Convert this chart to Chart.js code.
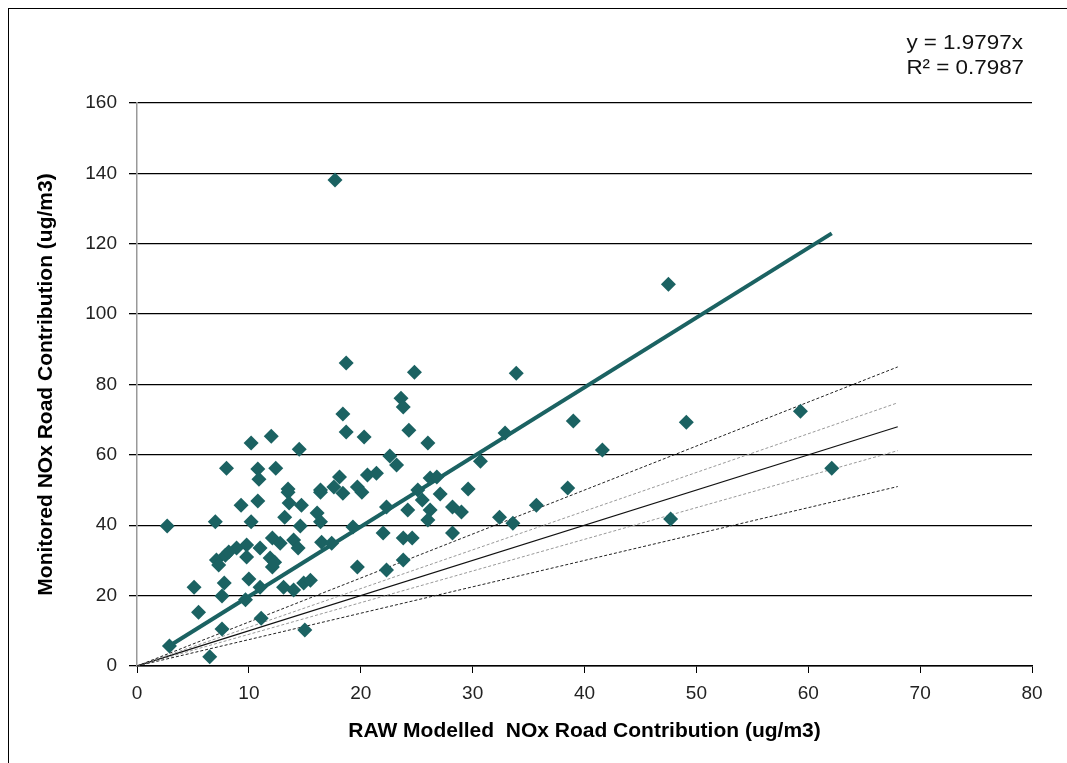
<!DOCTYPE html>
<html>
<head>
<meta charset="utf-8">
<script src="https://cdn.jsdelivr.net/npm/chart.js@4"></script>
<style>
  html, body { margin: 0; padding: 0; background: #fff; }
  #wrap { position: relative; width: 1067px; height: 763px; }
  #frame { position: absolute; left: 8px; top: 8px; width: 1070px; height: 770px; border: 1px solid #000; box-sizing: border-box; }
  #eq { position: absolute; right: 43px; top: 30px; font-family: "Liberation Sans", Arial, sans-serif; font-size: 20px; line-height: 25px; color: #111; text-align: left; transform: scaleX(1.12); transform-origin: right top; }
</style>
</head>
<body>
<div id="wrap">
  <div id="frame"></div>
  <canvas id="chart" width="1067" height="763"></canvas>
  <div id="eq">y = 1.9797x<br>R² = 0.7987</div>
</div>
<script>
// RAW modelled vs monitored NOx road contribution (ug/m3)
const modelled = [
  2.7, 7.0, 9.3, 10.8, 10.2, 13.5, 13.6, 14.7, 16.4, 13.2, 14.6, 16.1, 16.4, 12.1, 12.8, 14.0,
  14.4, 16.5, 17.4, 8.9, 9.8, 11.0, 7.1, 7.9, 7.3, 8.2, 9.8, 11.9, 12.1, 12.3, 5.1, 7.8,
  7.6, 10.0, 11.0, 13.1, 14.0, 14.9, 15.5, 9.7, 5.5, 7.6, 11.1, 15.0, 2.9, 6.5, 10.2, 12.0,
  14.5, 8.0, 10.8, 10.9, 12.4, 13.5, 16.4, 17.6, 18.7, 24.8, 33.9, 23.6, 23.8, 18.4, 18.7, 20.3,
  24.3, 26.0, 32.9, 22.6, 23.2, 30.7, 18.1, 18.4, 20.6, 21.4, 19.7, 20.1, 26.2, 26.8, 29.6, 25.1,
  27.1, 22.3, 24.2, 25.5, 26.2, 26.0, 28.2, 29.0, 32.4, 33.6, 19.3, 22.0, 23.8, 24.6, 28.2, 19.7,
  22.3, 23.8, 39.0, 49.1, 41.6, 59.3, 62.1, 38.5, 35.7, 47.7, 47.5, 17.7
];
const monitored = [
  39.8, 41.0, 45.7, 46.9, 41.0, 49.4, 46.3, 45.7, 49.4, 42.3, 39.8, 43.5, 41.0, 36.4, 34.9, 35.8,
  33.5, 35.2, 34.9, 33.5, 34.4, 33.5, 30.1, 31.5, 28.7, 32.4, 31.0, 30.7, 28.1, 29.5, 22.4, 23.6,
  19.9, 24.7, 22.4, 22.4, 21.6, 23.6, 24.4, 18.8, 15.3, 10.5, 13.6, 10.2, 5.7, 2.6, 63.4, 65.3,
  61.6, 56.2, 56.0, 53.1, 56.2, 50.3, 50.0, 50.9, 86.1, 83.5, 83.2, 76.1, 73.6, 71.6, 66.5, 65.1,
  67.0, 63.4, 66.2, 59.7, 57.1, 58.2, 53.7, 49.1, 54.3, 54.8, 50.9, 49.4, 53.4, 53.7, 50.3, 50.0,
  48.9, 45.2, 44.3, 47.2, 44.3, 41.5, 45.2, 43.8, 42.3, 40.6, 39.5, 37.8, 36.4, 36.4, 37.8, 28.1,
  27.3, 30.1, 69.6, 69.3, 61.4, 72.4, 56.2, 50.6, 45.7, 41.8, 108.5, 138.1
];
const trendSlope = 1.9797;
const refSlopes = [1.25, 1.1, 1.0, 0.9, 0.75];
const refMaxX = 68;
const xTicks = [0, 10, 20, 30, 40, 50, 60, 70, 80];
const yTicks = [0, 20, 40, 60, 80, 100, 120, 140, 160];

const teal = '#1b6262';
const points = modelled.map((x, i) => ({ x: x, y: monitored[i] }));
const xMin = Math.min(...modelled), xMax = Math.max(...modelled);

const refStyles = [
  { color: '#222', dash: [3, 2], width: 1 },
  { color: '#999', dash: [3, 2], width: 1 },
  { color: '#111', dash: [], width: 1.2 },
  { color: '#999', dash: [3, 2], width: 1 },
  { color: '#222', dash: [3, 2], width: 1 }
];

const datasets = refSlopes.map((s, i) => ({
  type: 'line',
  data: [{ x: 0, y: 0 }, { x: refMaxX, y: s * refMaxX }],
  borderColor: refStyles[i].color,
  borderDash: refStyles[i].dash,
  borderWidth: refStyles[i].width,
  pointRadius: 0,
  fill: false,
  order: 3
}));
datasets.push({
  type: 'line',
  data: [{ x: xMin, y: trendSlope * xMin }, { x: xMax, y: trendSlope * xMax }],
  borderColor: teal,
  borderWidth: 4,
  pointRadius: 0,
  fill: false,
  order: 2
});
datasets.push({
  type: 'scatter',
  data: points,
  pointStyle: 'rectRot',
  pointRadius: 7.5,
  backgroundColor: teal,
  borderColor: teal,
  borderWidth: 0,
  order: 1
});

const family = '"Liberation Sans", Arial, sans-serif';
const tickFont = { family: family, size: 19 };
const titleFont = { family: family, size: 21, weight: 'bold' };

new Chart(document.getElementById('chart'), {
  type: 'scatter',
  data: { datasets: datasets },
  options: {
    responsive: false,
    animation: false,
    layout: { padding: { left: 20, top: 103, right: 35, bottom: 17 } },
    plugins: { legend: { display: false }, tooltip: { enabled: false } },
    scales: {
      x: {
        type: 'linear',
        min: 0, max: 80,
        afterBuildTicks: s => { s.ticks = xTicks.map(v => ({ value: v })); },
        afterFit: s => { s.height = 80; },
        ticks: { color: '#222', font: tickFont, padding: 9 },
        grid: { display: true, drawOnChartArea: false, drawTicks: true, tickLength: 7, color: '#000' },
        border: { color: '#000', width: 1.5 },
        title: { display: true, text: 'RAW Modelled  NOx Road Contribution (ug/m3)', color: '#000',
                 font: titleFont, padding: { top: 0, bottom: 2 } }
      },
      y: {
        type: 'linear',
        min: 0, max: 160,
        afterBuildTicks: s => { s.ticks = yTicks.map(v => ({ value: v })); },
        afterFit: s => { s.width = 117; },
        ticks: { color: '#222', font: tickFont, padding: 12 },
        grid: { color: '#000', lineWidth: 1.3, drawTicks: true, tickLength: 8 },
        border: { color: '#999', width: 1.5 },
        title: { display: true, text: 'Monitored NOx Road Contribution (ug/m3)', color: '#000',
                 font: titleFont, padding: { top: 14, bottom: 0 } }
      }
    }
  }
});
</script>
</body>
</html>
